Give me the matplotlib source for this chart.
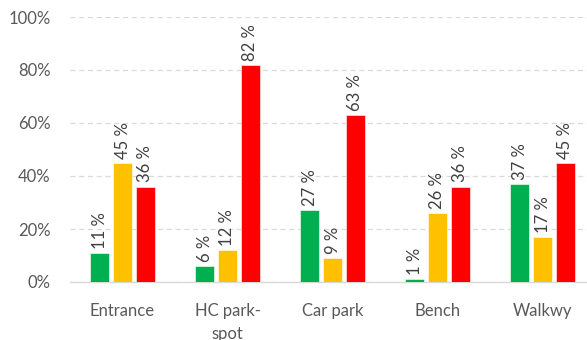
import numpy as np
import matplotlib.pyplot as plt
from matplotlib.ticker import PercentFormatter

## Survey results per location (share of answers)
categories = ['Entrance', 'HC park-\nspot', 'Car park', 'Bench', 'Walkwy']
green_vals = [11, 6, 27, 1, 37]
yellow_vals = [45, 12, 9, 26, 17]
red_vals = [36, 82, 63, 36, 45]

series = [green_vals, yellow_vals, red_vals]
colors = ['#00b050', '#ffc000', '#ff0000']

plt.rcParams['font.family'] = ['Lato', 'DejaVu Sans']

fig = plt.figure(figsize=(5.87, 3.40), dpi=100)
ax = fig.add_axes([70 / 587, 58 / 340, 525 / 587, 265 / 340])

x = np.arange(len(categories))
width = 0.176
step = 0.218

for i, (vals, col) in enumerate(zip(series, colors)):
    pos = x + (i - 1) * step
    bars = ax.bar(pos, np.array(vals) / 100, width=width, color=col,
                  edgecolor='white', linewidth=0.4, zorder=3)
    for b, v in zip(bars, vals):
        ax.annotate(f'{v} %', (b.get_x() + b.get_width() / 2, b.get_height()),
                    xytext=(0, 3), textcoords='offset points',
                    rotation=90, ha='center', va='bottom',
                    fontsize=12, color='#404040')

ax.set_xlim(-0.5, len(categories) - 0.5)
ax.set_ylim(0, 1)
ax.yaxis.set_major_formatter(PercentFormatter(1.0, decimals=0))
ax.set_yticks(np.arange(0, 1.01, 0.2))
ax.set_xticks(x)
ax.set_xticklabels(categories, linespacing=1.55)

ax.tick_params(axis='both', length=0, labelsize=12, labelcolor='#595959')
ax.tick_params(axis='x', pad=15)
ax.tick_params(axis='y', pad=14)

ax.grid(axis='y', color='#d9d9d9', linestyle=(0, (4, 3)), linewidth=0.9, zorder=0)
for s in ['top', 'right', 'left']:
    ax.spines[s].set_visible(False)
ax.spines['bottom'].set_color('#d9d9d9')
ax.spines['bottom'].set_linewidth(1)

fig.savefig('out.png', dpi=100)
